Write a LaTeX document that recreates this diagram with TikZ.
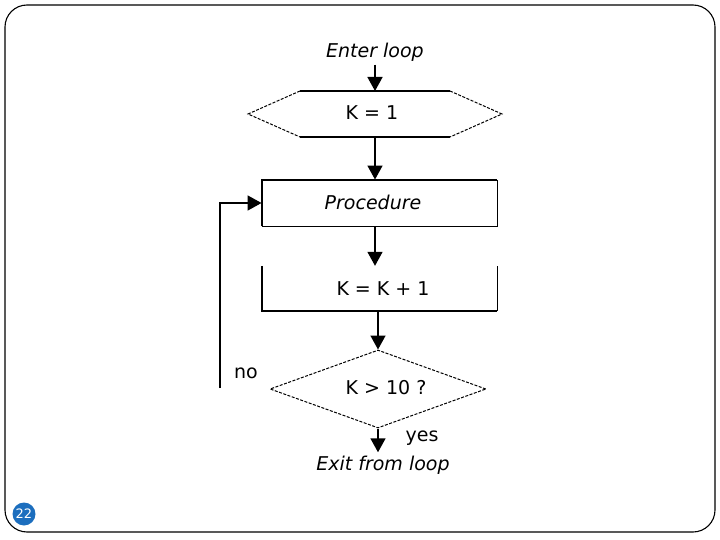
\documentclass[tikz,border=0pt]{standalone}
\usepackage{fontspec}
\setmainfont{DejaVu Sans}
\usepackage{tikz}
\usetikzlibrary{arrows.meta}
\usetikzlibrary{shapes.geometric}
\usepackage{xcolor}
\definecolor{slideblue}{RGB}{28,110,190}

\tikzset{
  flow/.style={-{Triangle[width=15pt,length=14pt]}, line width=1.6pt},
  edge/.style={line width=1.6pt},
  faint/.style={dash pattern=on 3pt off 1.5pt, line width=1pt},
  lbl/.style={font=\fontsize{19}{22}\selectfont},
  ital/.style={font=\fontsize{19}{22}\selectfont\itshape},
}

\begin{document}
\begin{tikzpicture}[x=1pt,y=-1pt]
\useasboundingbox (0,0) rectangle (720,540);
\draw[rounded corners=22pt, line width=1.1pt] (5,5) rectangle (715,532);

% entry
\node[ital] (enter) at (375,52) {Enter loop};

% hexagon K = 1
\coordinate (hexN) at (375,91);
\coordinate (hexS) at (375,137);
\draw[edge] (300,91) -- (450,91);
\draw[edge] (300,137) -- (450,137);
\draw[faint] (300,91) -- (248,114) -- (300,137);
\draw[faint] (450,91) -- (502,114) -- (450,137);
\node[lbl] (init) at (372,113) {K = 1};

\draw[flow] (enter) -- (hexN);

% procedure box
\node[draw, line width=0.9pt, minimum width=235pt, minimum height=46pt] (proc) at (379.5,203) {};
\node[ital] (proctext) at (373,202) {Procedure};
\draw[edge] (proc.south west) -- (proc.north west) -- (proc.north east);

\draw[flow] (hexS) -- (hexS |- proc.north);

% K = K + 1
\node[minimum width=235pt, minimum height=45pt] (incr) at (379.5,288.5) {};
\node[lbl] (incrtext) at (383,289) {K = K + 1};
\draw[edge] (incr.north west) -- (incr.south west) -- (incr.south east);
\draw[line width=1.1pt] (incr.south east) -- (incr.north east);

\draw[flow] (hexS |- proc.south) -- (hexS |- incr.north);

% test
\node[diamond, faint, draw, aspect=2.77, minimum width=216pt, minimum height=78pt, inner sep=0pt] (test) at (378,389) {};
\node[lbl] (testtext) at (386,388) {K > 10 ?};

\draw[flow] (incr.south -| test.north) -- (test.north);

% exit
\node[ital] (exit) at (383,465) {Exit from loop};
\draw[flow] (test.south) -- (test.south |- exit.north);
\node[lbl] (yes) at (422,438) {yes};
\node[lbl] (no) at (246,373) {no};

% back to the procedure
\coordinate (back) at (220,388);
\draw[flow] (back) |- (proc.west);

% slide number
\node[circle, fill=slideblue, text=white, minimum size=23pt, inner sep=0pt, font=\fontsize{13}{14}\selectfont] (page) at (24,514) {22};

\end{tikzpicture}
\end{document}
